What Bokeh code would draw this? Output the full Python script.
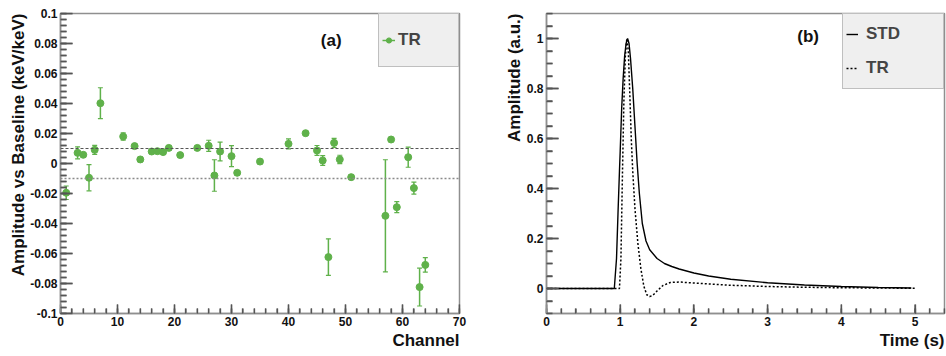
import math
from bokeh.plotting import figure
from bokeh.models import (FixedTicker, Span, Label, Legend, LegendItem,
                          ColumnDataSource, Title)
from bokeh.layouts import row
from bokeh.embed import file_html
from bokeh.resources import INLINE

# ---------------- data: panel (a) ----------------
channel = [1, 3, 4, 5, 6, 7, 11, 13, 14, 16, 17, 18, 19, 21, 24, 26, 27, 28, 30, 31,
           35, 40, 43, 45, 46, 47, 48, 49, 51, 57, 58, 59, 61, 62, 63, 64]
tr_ratio = [-0.0195, 0.0071, 0.0058, -0.0095, 0.0091, 0.0402, 0.0180, 0.0116, 0.0027,
            0.0080, 0.0082, 0.0076, 0.0104, 0.0056, 0.0104, 0.0118, -0.0080, 0.0080,
            0.0049, -0.0062, 0.0013, 0.0131, 0.0202, 0.0087, 0.0020, -0.0624, 0.0138,
            0.0027, -0.0091, -0.0349, 0.0160, -0.0291, 0.0042, -0.0164, -0.0824, -0.0676]
tr_err = [0.0045, 0.004, 0.0015, 0.0087, 0.003, 0.0103, 0.0025, 0.0015, 0.0015, 0.0015,
          0.0015, 0.0015, 0.0015, 0.0015, 0.0015, 0.0037, 0.0105, 0.0063, 0.007, 0.0015,
          0.0015, 0.0033, 0.0015, 0.0033, 0.0033, 0.0122, 0.003, 0.0028, 0.0015, 0.0374,
          0.0015, 0.0037, 0.0067, 0.004, 0.0126, 0.0048]
thresholds = [0.01, -0.01]

a_x_ticks = [0, 10, 20, 30, 40, 50, 60, 70]
a_x_labels = ["0", "10", "20", "30", "40", "50", "60", "70"]
a_y_ticks = [-0.1, -0.08, -0.06, -0.04, -0.02, 0, 0.02, 0.04, 0.06, 0.08, 0.1]
a_y_labels = ["-0.1", "-0.08", "-0.06", "-0.04", "-0.02", "0", "0.02", "0.04",
              "0.06", "0.08", "0.1"]

# ---------------- data: panel (b) ----------------
t_std = [0, 0.5, 0.92, 0.95, 0.97, 0.99, 1.0, 1.02, 1.04, 1.06, 1.08, 1.1, 1.12, 1.14,
         1.17, 1.2, 1.23, 1.26, 1.3, 1.35, 1.4, 1.5, 1.6, 1.7, 1.8, 2.0, 2.2, 2.5, 3.0,
         3.5, 4.0, 4.5, 4.95]
amp_std = [0, 0, 0, 0.12, 0.30, 0.47, 0.55, 0.72, 0.84, 0.93, 0.98, 1.0, 0.98, 0.92,
           0.80, 0.65, 0.50, 0.38, 0.26, 0.19, 0.155, 0.12, 0.10, 0.088, 0.078, 0.062,
           0.050, 0.037, 0.023, 0.014, 0.008, 0.004, 0.002]
t_tr = [0, 0.5, 0.99, 1.01, 1.03, 1.05, 1.07, 1.09, 1.11, 1.13, 1.15, 1.17, 1.2, 1.24,
        1.28, 1.32, 1.36, 1.4, 1.44, 1.5, 1.58, 1.68, 1.8, 2.0, 2.2, 2.5, 3.0, 3.5, 4.0,
        4.5, 5.0]
amp_tr = [0, 0, 0, 0.12, 0.45, 0.75, 0.93, 1.0, 0.95, 0.78, 0.60, 0.47, 0.32, 0.18,
          0.08, 0.01, -0.025, -0.032, -0.028, -0.01, 0.012, 0.024, 0.026, 0.022, 0.018,
          0.013, 0.008, 0.005, 0.003, 0.002, 0.001]

b_x_ticks = [0, 1, 2, 3, 4, 5]
b_x_labels = ["0", "1", "2", "3", "4", "5"]
b_y_ticks = [0, 0.2, 0.4, 0.6, 0.8, 1.0]
b_y_labels = ["0", "0.2", "0.4", "0.6", "0.8", "1"]

# ---------------- styling ----------------
FONT = "Liberation Sans"
GREEN = "#5fb14a"
FRAME = "#8f8f8f"
TICK = "#555555"


def steps(start, stop, step):
    n = int(round((stop - start) / step))
    return [round(start + i * step, 4) for i in range(n + 1)]


def style_axes(p, xt, xl, xminor, yt, yl, yminor):
    p.grid.visible = False
    p.outline_line_color = FRAME
    p.outline_line_width = 1.5
    p.xaxis.ticker = FixedTicker(ticks=xt, minor_ticks=xminor)
    p.yaxis.ticker = FixedTicker(ticks=yt, minor_ticks=yminor)
    p.xaxis.major_label_overrides = dict(zip(xt, xl))
    p.yaxis.major_label_overrides = dict(zip(yt, yl))
    for ax in (p.xaxis, p.yaxis):
        ax.axis_line_color = FRAME
        ax.axis_line_width = 1.5
        ax.major_tick_line_color = TICK
        ax.minor_tick_line_color = TICK
        ax.major_tick_line_width = 1.3
        ax.minor_tick_line_width = 1.3
        ax.major_tick_out = 0
        ax.minor_tick_out = 0
        ax.major_label_text_font = FONT
        ax.major_label_text_font_style = "bold"
        ax.major_label_text_font_size = "12px"
        ax.major_label_text_color = "#111111"
    p.xaxis.major_tick_in = 9
    p.xaxis.minor_tick_in = 5
    p.yaxis.major_tick_in = 12
    p.yaxis.minor_tick_in = 6
    p.xaxis.major_label_standoff = 3
    p.yaxis.major_label_standoff = 3


def inner_ticks(p, xr, yr, fw, fh, xt, xminor, yt, yminor):
    dx = (xr[1] - xr[0]) / fw
    dy = (yr[1] - yr[0]) / fh
    xs0, xs1, ys0, ys1 = [], [], [], []
    for ticks, n in ((xt, 9), (xminor, 5)):
        for t in ticks:
            xs0.append(float(t)); xs1.append(float(t))
            ys0.append(float(yr[0])); ys1.append(float(yr[0] + n * dy))
    for ticks, n in ((yt, 12), (yminor, 6)):
        for t in ticks:
            xs0.append(float(xr[0])); xs1.append(float(xr[0] + n * dx))
            ys0.append(float(t)); ys1.append(float(t))
    tsrc = ColumnDataSource(dict(x0=xs0, y0=ys0, x1=xs1, y1=ys1))
    p.segment(x0="x0", y0="y0", x1="x1", y1="y1", source=tsrc,
              line_color=TICK, line_width=1.4)


def axis_title(p, text, side):
    p.add_layout(Title(text=text, align="right", text_font=FONT,
                       text_font_style="bold", text_font_size="17px",
                       text_color="#111111", standoff=0, offset=0), side)


def panel_label(p, x, y, text):
    p.add_layout(Label(x=x, y=y, text=text, text_align="center",
                       text_baseline="middle", text_font=FONT, text_font_style="bold",
                       text_font_size="17px", text_color="#111111"))


# ---------------- panel (a) ----------------
A_XR, A_YR = (0, 70), (-0.1, 0.1)
a_x_minor = steps(0, 70, 2)
a_y_minor = steps(-0.1, 0.1, 0.004)
p1 = figure(output_backend="svg", toolbar_location=None, x_range=A_XR,
            y_range=A_YR, frame_width=399, frame_height=300,
            min_border_left=60, min_border_right=11, min_border_top=13,
            min_border_bottom=43)
style_axes(p1, a_x_ticks, a_x_labels, a_x_minor, a_y_ticks, a_y_labels, a_y_minor)

lo = [v - e for v, e in zip(tr_ratio, tr_err)]
hi = [v + e for v, e in zip(tr_ratio, tr_err)]
src = ColumnDataSource(dict(ch=channel, val=tr_ratio, lo=lo, hi=hi))

p1.add_layout(Span(location=thresholds[0], dimension="width", line_color="#555555",
                   line_dash="3 2", line_width=1))
p1.add_layout(Span(location=thresholds[1], dimension="width", line_color="#8a8a8a",
                   line_dash="2 2", line_width=1.3))

err_r = p1.segment(x0="ch", y0="lo", x1="ch", y1="hi", source=src,
                   line_color=GREEN, line_width=1.5)
p1.scatter(x="ch", y="hi", source=src, marker="dash", size=5, line_color=GREEN,
           line_width=1.2)
p1.scatter(x="ch", y="lo", source=src, marker="dash", size=5, line_color=GREEN,
           line_width=1.2)
pts = p1.scatter(x="ch", y="val", source=src, marker="circle", size=7,
                 fill_color=GREEN, line_color=GREEN)
inner_ticks(p1, A_XR, A_YR, 399, 300, a_x_ticks, a_x_minor, a_y_ticks, a_y_minor)

leg1 = Legend(items=[LegendItem(label="TR", renderers=[err_r, pts])],
              location="top_right", margin=0, padding=3, spacing=0,
              glyph_width=13, glyph_height=20, label_standoff=3,
              label_width=57, label_height=46,
              border_line_color=FRAME, border_line_width=1.5,
              background_fill_color="#efefef", background_fill_alpha=1.0,
              label_text_font=FONT, label_text_font_style="bold",
              label_text_font_size="17px")
p1.add_layout(leg1)

panel_label(p1, 47.5, 0.082, "(a)")
axis_title(p1, "Channel", "below")
axis_title(p1, "Amplitude vs Baseline (keV/keV)", "left")

# ---------------- panel (b) ----------------
B_XR, B_YR = (0, 5.4), (-0.1, 1.1)
b_x_minor = steps(0, 5.4, 0.2)
b_y_minor = steps(-0.1, 1.1, 0.05)
p2 = figure(output_backend="svg", toolbar_location=None, x_range=B_XR,
            y_range=B_YR, frame_width=398, frame_height=300,
            min_border_left=76, min_border_right=2, min_border_top=13,
            min_border_bottom=43)
style_axes(p2, b_x_ticks, b_x_labels, b_x_minor, b_y_ticks, b_y_labels, b_y_minor)

std_r = p2.line(t_std, amp_std, line_color="black", line_width=1.4)
tr_r = p2.line(t_tr, amp_tr, line_color="black", line_width=1.5, line_dash="2 2")
inner_ticks(p2, B_XR, B_YR, 398, 300, b_x_ticks, b_x_minor, b_y_ticks, b_y_minor)

leg2 = Legend(items=[LegendItem(label="STD", renderers=[std_r]),
                     LegendItem(label="TR", renderers=[tr_r])],
              location="top_right", margin=0, padding=3, spacing=0,
              glyph_width=12, glyph_height=20, label_standoff=8,
              label_width=74, label_height=34,
              border_line_color=FRAME, border_line_width=1.5,
              background_fill_color="#efefef", background_fill_alpha=1.0,
              label_text_font=FONT, label_text_font_style="bold",
              label_text_font_size="17px")
p2.add_layout(leg2)

panel_label(p2, 3.55, 1.01, "(b)")
axis_title(p2, "Time (s)", "below")
axis_title(p2, "Amplitude (a.u.)", "left")

layout = row(p1, p2)
open("out.html", "w").write(file_html(layout, INLINE))
